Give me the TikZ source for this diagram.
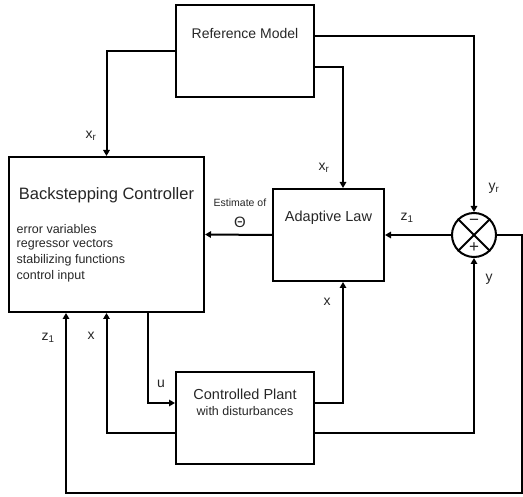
\documentclass[tikz,border=0pt]{standalone}
\usepackage{fontspec}
\setmainfont{Liberation Sans}
\usetikzlibrary{arrows.meta,calc}
\newcommand{\fsz}[1]{\fontsize{#1}{#1}\selectfont}
\tikzset{
  blk/.style={draw, line width=2pt, minimum width=#1, inner sep=0pt},
  wire/.style={line width=2pt},
  arr/.style={wire, -{Triangle[length=6pt,width=6.5pt]}},
  lbl/.style={inner sep=0pt, text=black!85},
  item/.style={lbl, anchor=west, font=\fsz{12.5}},
}
\begin{document}
\begin{tikzpicture}[x=1pt,y=-1pt]
\useasboundingbox (0,0) rectangle (523,497);

% blocks
\node[blk=138pt, minimum height=92pt] (rm) at (245,51) {};
\node[blk=195pt, minimum height=155pt] (bc) at (106.5,234.5) {};
\node[blk=111pt, minimum height=92pt] (al) at (328.5,235) {};
\node[blk=138pt, minimum height=92pt] (pl) at (245,418) {};
\node[draw, circle, line width=2pt, minimum size=44pt, inner sep=0pt] (sum) at (474,235) {};
\draw[wire] (sum.north west) -- (sum.south east);
\draw[wire] (sum.north east) -- (sum.south west);
\node[lbl] (minus) at (474,222) {\fsz{17}\textminus};
\node[lbl] (plus) at (474,248) {\fsz{17}+};

% block texts
\node[lbl] (rmtext) at (245,33) {\fsz{14}Reference Model};
\node[lbl] (bctitle) at (106.5,195) {\fsz{16.5}Backstepping Controller};
\node[item] (it1) at (16.5,229.5) {error variables};
\node[item] (it2) at (16.5,245) {regressor vectors};
\node[item] (it3) at (16.5,260.5) {stabilizing functions};
\node[item] (it4) at (16.5,276) {control input};
\node[lbl] (altext) at (328.5,218) {\fsz{14.5}Adaptive Law};
\node[lbl] (pltext) at (245,394) {\fsz{14.5}Controlled Plant};
\node[lbl] (plsub) at (245,411) {\fsz{12.5}with disturbances};

% connectors
\coordinate (fbr) at (522,493);
\coordinate (fbl) at (66,493);
\draw[arr] (rm.west) -| (bc.north);
\draw[arr] ([yshift=15pt]rm.east) -| (sum.north);
\draw[arr] ([yshift=-16pt]rm.east) -| ([xshift=14.5pt]al.north);
\draw[arr] (sum.west) -- (al.east);
\draw[arr] (al.west) -- (bc.east);
\draw[arr] (sum.east) -| (fbr) -- (fbl) -- (bc.south -| fbl);
\draw[arr] ([yshift=-15pt]pl.east) -| (sum.south);
\draw[arr] ([yshift=15pt]pl.east) -| ([xshift=14.5pt]al.south);
\draw[arr] ([xshift=41.5pt]bc.south) |- ([yshift=15pt]pl.west);
\draw[arr] ([yshift=-15pt]pl.west) -| (bc.south);

% signal labels
\node[lbl] (lxr1) at (91,136) {\fsz{14}x\textsubscript{r}};
\node[lbl] (lxr2) at (324,168) {\fsz{14}x\textsubscript{r}};
\node[lbl] (lyr) at (494,188) {\fsz{14}y\textsubscript{r}};
\node[lbl] (lz1) at (407,218) {\fsz{14}z\textsubscript{1}};
\node[lbl] (lest) at (240,203) {\fsz{10.5}Estimate of};
\node[lbl] (lth) at (240,222) {\fsz{15}Θ};
\node[lbl] (ly) at (489,279) {\fsz{14}y};
\node[lbl] (lx1) at (327,302) {\fsz{14}x};
\node[lbl] (lz2) at (48,338) {\fsz{14}z\textsubscript{1}};
\node[lbl] (lx2) at (91,336) {\fsz{14}x};
\node[lbl] (lu) at (161,384) {\fsz{14}u};
\end{tikzpicture}
\end{document}
